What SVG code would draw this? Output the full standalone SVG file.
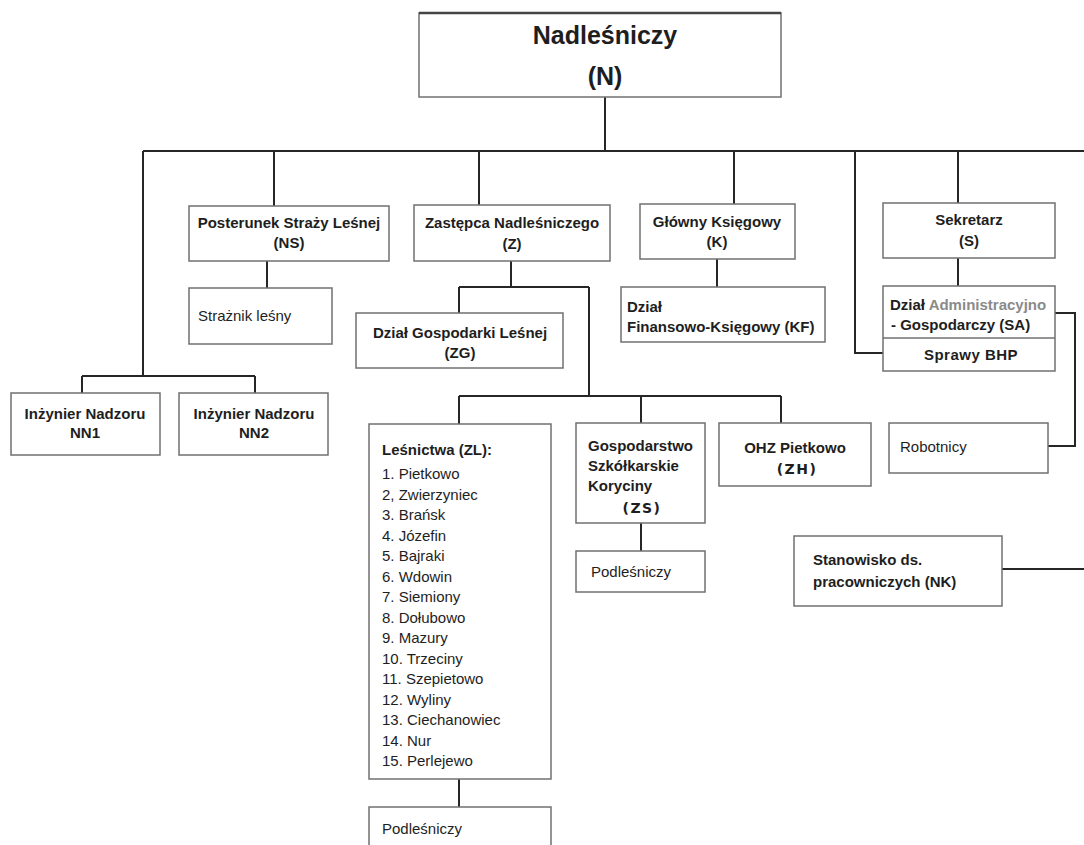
<svg xmlns="http://www.w3.org/2000/svg" width="1084" height="845" viewBox="0 0 1084 845">
<style>
.bg{fill:#ffffff}
.box{fill:#ffffff;stroke:#707070;stroke-width:1.5}
.ln{fill:none;stroke:#262626;stroke-width:2}
text{font-family:"Liberation Sans",Arial,sans-serif;fill:#1e1e1e;font-size:15px}
.b{font-weight:bold}
.c{text-anchor:middle}
.big{font-size:25px;font-weight:bold}
.li{font-size:15px}
.g{fill:#8a8a8a}
.mono{font-family:"DejaVu Sans",sans-serif;font-size:14px;letter-spacing:1.5px}
</style>
<rect class="bg" x="0" y="0" width="1084" height="845"/>
<g id="connectors">
<path class="ln" d="M605 97 V151 M143 151 H1084"/>
<path class="ln" d="M143 151 V376 M82 376 H255 M82 376 V393 M255 376 V393"/>
<path class="ln" d="M274 151 V206 M267 261 V288"/>
<path class="ln" d="M479 151 V205 M511 261 V287 M459 287 H589 M459 287 V313 M589 287 V396"/>
<path class="ln" d="M459 396 H781 M459 396 V424 M641 396 V423 M781 396 V423"/>
<path class="ln" d="M734 151 V204 M717 259 V287"/>
<path class="ln" d="M855 151 V353 H883"/>
<path class="ln" d="M958 151 V203 M958 258 V286"/>
<path class="ln" d="M1055 313 H1075 V446 H1048"/>
<path class="ln" d="M459 779 V807 M641 523 V551 M1002 569 H1084"/>
</g>
<g id="n-nadlesniczy">
<rect class="box" x="419" y="13" width="362" height="84"/>
<line x1="419" y1="13" x2="781" y2="13" stroke="#444" stroke-width="2.5"/>
<text class="big c" x="605" y="44">Nadleśniczy</text>
<text class="big c" x="605" y="85">(N)</text>
</g>
<g id="n-ns">
<rect class="box" x="189" y="206" width="200" height="55"/>
<text class="b c" x="289" y="228">Posterunek Straży Leśnej</text>
<text class="b c" x="289" y="248">(NS)</text>
</g>
<g id="n-straznik">
<rect class="box" x="189" y="288" width="143" height="56"/>
<text x="198" y="321">Strażnik leśny</text>
</g>
<g id="n-nn1">
<rect class="box" x="11" y="393" width="149" height="62"/>
<text class="b c" x="85" y="419">Inżynier Nadzoru</text>
<text class="b c" x="85" y="438">NN1</text>
</g>
<g id="n-nn2">
<rect class="box" x="179" y="393" width="149" height="62"/>
<text class="b c" x="254" y="419">Inżynier Nadzoru</text>
<text class="b c" x="254" y="438">NN2</text>
</g>
<g id="n-z">
<rect class="box" x="414" y="205" width="196" height="56"/>
<text class="b c" x="512" y="228">Zastępca Nadleśniczego</text>
<text class="b c" x="512" y="249">(Z)</text>
</g>
<g id="n-zg">
<rect class="box" x="356" y="313" width="207" height="55"/>
<text class="b c" x="460" y="338">Dział Gospodarki Leśnej</text>
<text class="b c" x="460" y="358">(ZG)</text>
</g>
<g id="n-k">
<rect class="box" x="640" y="204" width="155" height="55"/>
<text class="b c" x="717" y="227">Główny Księgowy</text>
<text class="b c" x="717" y="247">(K)</text>
</g>
<g id="n-kf">
<rect class="box" x="621" y="287" width="204" height="55"/>
<text class="b" x="627" y="312">Dział</text>
<text class="b" x="627" y="332">Finansowo-Księgowy (KF)</text>
</g>
<g id="n-s">
<rect class="box" x="883" y="203" width="172" height="55"/>
<text class="b c" x="969" y="225">Sekretarz</text>
<text class="b c" x="969" y="246">(S)</text>
</g>
<g id="n-sa">
<rect class="box" x="883" y="286" width="172" height="85"/>
<line x1="883" y1="338" x2="1055" y2="338" stroke="#707070" stroke-width="1.5"/>
<text class="b" x="890" y="310">Dział <tspan class="g">Administracyjno</tspan></text>
<text class="b" x="891" y="330">- Gospodarczy (SA)</text>
<text class="b c" x="971" y="360" letter-spacing="0.5">Sprawy BHP</text>
</g>
<g id="n-robotnicy">
<rect class="box" x="889" y="423" width="159" height="50"/>
<text x="900" y="452">Robotnicy</text>
</g>
<g id="n-zl">
<rect class="box" x="369" y="424" width="182" height="355"/>
<text class="b" x="382" y="455">Leśnictwa (ZL):</text>
<text class="li" x="382" y="479">1. Pietkowo</text>
<text class="li" x="382" y="499.5">2, Zwierzyniec</text>
<text class="li" x="382" y="520">3. Brańsk</text>
<text class="li" x="382" y="540.5">4. Józefin</text>
<text class="li" x="382" y="561">5. Bajraki</text>
<text class="li" x="382" y="581.5">6. Wdowin</text>
<text class="li" x="382" y="602">7. Siemiony</text>
<text class="li" x="382" y="622.5">8. Dołubowo</text>
<text class="li" x="382" y="643">9. Mazury</text>
<text class="li" x="382" y="663.5">10. Trzeciny</text>
<text class="li" x="382" y="684">11. Szepietowo</text>
<text class="li" x="382" y="704.5">12. Wyliny</text>
<text class="li" x="382" y="725">13. Ciechanowiec</text>
<text class="li" x="382" y="745.5">14. Nur</text>
<text class="li" x="382" y="766">15. Perlejewo</text>
</g>
<g id="n-zl-podlesniczy">
<rect class="box" x="369" y="807" width="182" height="60"/>
<text x="382" y="834">Podleśniczy</text>
</g>
<g id="n-zs">
<rect class="box" x="576" y="423" width="129" height="100"/>
<text class="b" x="588" y="451">Gospodarstwo</text>
<text class="b" x="588" y="471">Szkółkarskie</text>
<text class="b" x="588" y="491">Koryciny</text>
<text class="b mono c" x="642" y="513">(ZS)</text>
</g>
<g id="n-zs-podlesniczy">
<rect class="box" x="576" y="551" width="129" height="41"/>
<text x="591" y="577">Podleśniczy</text>
</g>
<g id="n-zh">
<rect class="box" x="719" y="423" width="152" height="63"/>
<text class="b c" x="795" y="453">OHZ Pietkowo</text>
<text class="b mono c" x="797" y="474">(ZH)</text>
</g>
<g id="n-nk">
<rect class="box" x="794" y="536" width="208" height="70"/>
<text class="b" x="813" y="565">Stanowisko ds.</text>
<text class="b" x="813" y="587">pracowniczych (NK)</text>
</g>
</svg>
